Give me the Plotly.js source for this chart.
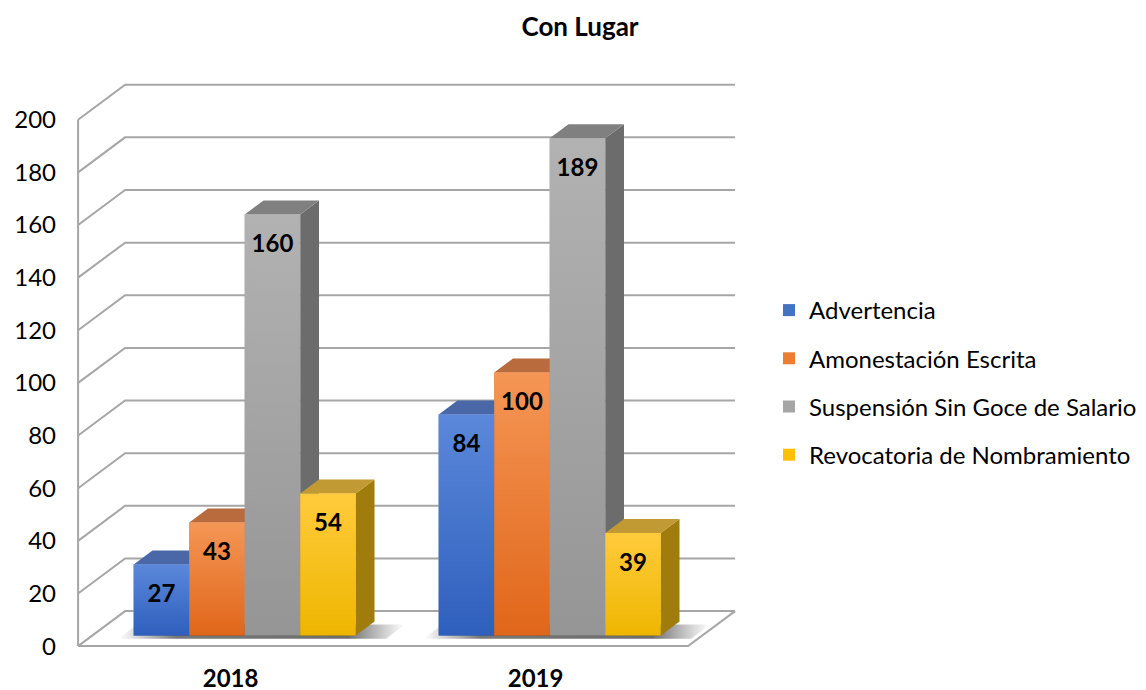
<!DOCTYPE html>
<html><head><meta charset="utf-8">
<script src="https://cdn.plot.ly/plotly-3.0.1.min.js"></script>
<style>html,body{margin:0;padding:0;background:#fff}#chart{width:1146px;height:690px}</style>
</head><body><div id="chart"></div>
<script>
// ---------- data ----------
const categories = ['2018', '2019'];
const seriesNames = ['Advertencia', 'Amonestación Escrita', 'Suspensión Sin Goce de Salario', 'Revocatoria de Nombramiento'];
const advertencia = [27, 84];
const amonestacion = [43, 100];
const suspension = [160, 189];
const revocatoria = [54, 39];
const yTickValues = [0, 20, 40, 60, 80, 100, 120, 140, 160, 180, 200];
const chartTitle = 'Con Lugar';

// ---------- style ----------
const FONT = 'Lato, "Open Sans", sans-serif';
const legendColors = ['#4472C4', '#ED7D31', '#A5A5A5', '#FFC000'];
const frontTop = ['#5b88da', '#f59655', '#b2b2b2', '#ffcb3c'];
const frontBottom = ['#2f5fbd', '#e0661a', '#959595', '#eeb600'];
const topColors = ['#4a68a8', '#b96b3e', '#808080', '#c29a33'];
const sideColors = ['#2c4f90', '#b0561a', '#6c6c6c', '#a07c0c'];
const gridColor = '#a6a6a6';

// geometry of the pseudo-3D box (in axis units)
const PX_PER_X = 305, PX_PER_Y = 2.63;
const DEPTH_X = 47 / PX_PER_X, DEPTH_Y = 35 / PX_PER_Y;
const BAR_FRONT = 0.3, BAR_BACK = 0.7;
const BARGAP = 0.272;
const LABEL_DROP = 12; // axis units below the bar top

const seriesValues = [advertencia, amonestacion, suspension, revocatoria];
const nS = seriesValues.length;
const catIdx = categories.map((c, j) => j);
const fx = DEPTH_X * BAR_FRONT, fy = DEPTH_Y * BAR_FRONT;
const bdx = DEPTH_X * (BAR_BACK - BAR_FRONT), bdy = DEPTH_Y * (BAR_BACK - BAR_FRONT);
const groupW = 1 - BARGAP, barW = groupW / nS;

const traces = [];

// walls / gridlines
const gx = [], gy = [];
const xL = -0.5, xR = categories.length - 0.5;
yTickValues.forEach(v => {
  gx.push(xL, xL + DEPTH_X, xR + DEPTH_X, null);
  gy.push(v, v + DEPTH_Y, v + DEPTH_Y, null);
});
gx.push(xL, xL, null, xL, xR, xR + DEPTH_X, null);
gy.push(yTickValues[0], yTickValues[yTickValues.length - 1], null, 0, 0, DEPTH_Y, null);
traces.push({type: 'scatter', mode: 'lines', x: gx, y: gy, line: {color: gridColor, width: 2},
  showlegend: false, hoverinfo: 'skip', connectgaps: false});

// soft floor shadows under each group
catIdx.forEach(j => {
  const x0 = j + fx - groupW / 2 - 0.05, x1 = j + fx + groupW / 2 + 0.1;
  const y0 = fy - 1.2, y1 = fy + bdy * 0.8;
  traces.push({type: 'scatter', mode: 'none', fill: 'toself',
    fillgradient: {type: 'horizontal', colorscale: [[0, 'rgba(60,60,60,0)'], [0.2, 'rgba(30,30,30,0.6)'],
      [0.8, 'rgba(30,30,30,0.65)'], [1, 'rgba(60,60,60,0)']]},
    x: [x0, x1, x1 + bdx, x0 + bdx, x0], y: [y0, y0, y1, y1, y0],
    showlegend: false, hoverinfo: 'skip'});
});

// legend carriers: real bar traces (front faces)
seriesValues.forEach((vals, i) => {
  traces.push({type: 'bar', name: seriesNames[i], x: catIdx.map(j => j + fx), y: vals,
    base: fy, marker: {color: legendColors[i], line: {width: 0}}, legendgroup: 'g' + i,
    hoverinfo: 'skip'});
});

// 3D faces drawn left to right
const labX = [], labY = [], labT = [];
catIdx.forEach(j => {
  seriesValues.forEach((vals, i) => {
    const v = vals[j];
    const xl = j + fx - groupW / 2 + i * barW, xr = xl + barW;
    const yb = fy, yt = v + fy;
    traces.push({type: 'scatter', mode: 'none', fill: 'toself', fillcolor: sideColors[i],
      x: [xr, xr + bdx, xr + bdx, xr, xr], y: [yb, yb + bdy, yt + bdy, yt, yb],
      showlegend: false, hoverinfo: 'skip'});
    traces.push({type: 'scatter', mode: 'none', fill: 'toself', fillcolor: topColors[i],
      x: [xl, xr, xr + bdx, xl + bdx, xl], y: [yt, yt, yt + bdy, yt + bdy, yt],
      showlegend: false, hoverinfo: 'skip'});
    traces.push({type: 'scatter', mode: 'none', fill: 'toself',
      fillgradient: {type: 'vertical', colorscale: [[0, frontBottom[i]], [1, frontTop[i]]]},
      x: [xl, xr, xr, xl, xl], y: [yb, yb, yt, yt, yb],
      showlegend: false, hoverinfo: 'skip'});
    labX.push((xl + xr) / 2); labY.push(yt - LABEL_DROP); labT.push(String(v));
  });
});

traces.push({type: 'scatter', mode: 'text', x: labX, y: labY, text: labT,
  textfont: {family: FONT, size: 24, color: '#000', weight: 'bold'},
  showlegend: false, hoverinfo: 'skip', cliponaxis: false});

// axes ranges -> exact pixel placement
const XR = [-0.52, 1.68], YR = [-3, 217];
const x0px = 78, y0px = 646;
const mL = x0px - (xL - XR[0]) * PX_PER_X;
const plotW = (XR[1] - XR[0]) * PX_PER_X;
const mB = 690 - (y0px + (0 - YR[0]) * PX_PER_Y);
const plotH = (YR[1] - YR[0]) * PX_PER_Y;
const mT = 690 - mB - plotH;

const layout = {
  width: 1146, height: 690,
  paper_bgcolor: '#fff', plot_bgcolor: 'rgba(0,0,0,0)',
  margin: {l: mL, r: 1146 - mL - plotW, t: mT, b: mB, pad: 0},
  font: {family: FONT, color: '#000', size: 24},
  title: {text: chartTitle, font: {family: FONT, size: 26, weight: 'bold', color: '#000'},
    xref: 'container', yref: 'container', x: 580 / 1146, xanchor: 'center', y: 1 - 27 / 690, yanchor: 'middle'},
  barmode: 'group', bargap: BARGAP, bargroupgap: 0,
  xaxis: {range: XR, tickvals: catIdx, ticktext: categories, showgrid: false, zeroline: false,
    showline: false, ticks: '', tickfont: {family: FONT, size: 24, weight: 'bold', color: '#000'},
    ticklabelstandoff: 8, fixedrange: true},
  yaxis: {range: YR, tickvals: yTickValues, showgrid: false, zeroline: false, showline: false,
    ticks: '', tickfont: {family: FONT, size: 24, color: '#000'}, ticklabelstandoff: 15, fixedrange: true},
  showlegend: true,
  legend: {xref: 'container', yref: 'container', x: 769 / 1146, xanchor: 'left', y: 1 - 288 / 690, yanchor: 'top',
    traceorder: 'grouped', tracegroupgap: 14, font: {family: FONT, size: 24, color: '#000'},
    bgcolor: 'rgba(0,0,0,0)', itemclick: false, itemdoubleclick: false}
};

Plotly.newPlot('chart', traces, layout, {displayModeBar: false, staticPlot: true});
</script></body></html>
